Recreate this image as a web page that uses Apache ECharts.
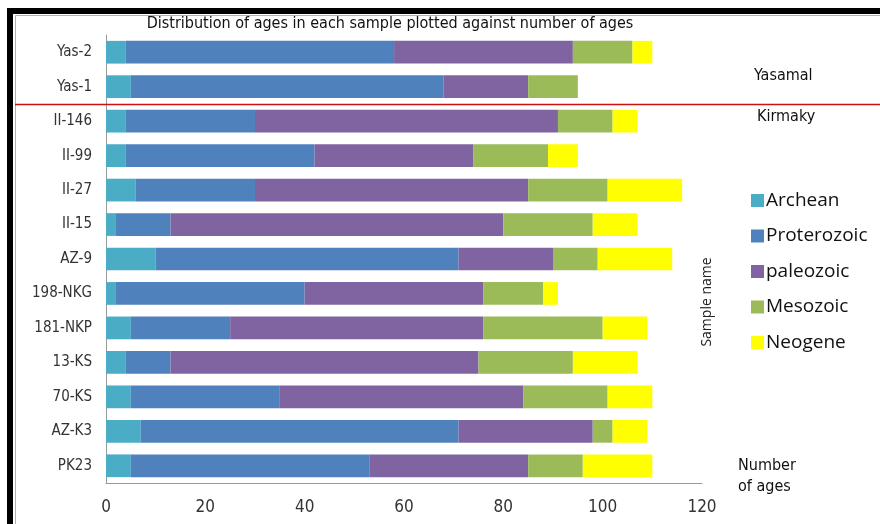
<!DOCTYPE html>
<html>
<head>
<meta charset="utf-8">
<script src="https://cdn.jsdelivr.net/npm/echarts@6/dist/echarts.min.js"></script>
<style>
  html, body { margin: 0; padding: 0; background: #fff; }
  #chart { width: 880px; height: 524px; }
</style>
</head>
<body>
<div id="chart"></div>
<script>
// Samples, top to bottom
const samples = ['Yas-2', 'Yas-1', 'II-146', 'II-99', 'II-27', 'II-15', 'AZ-9', '198-NKG', '181-NKP', '13-KS', '70-KS', 'AZ-K3', 'PK23'];

// Number of ages per era for each sample
const archean     = [4, 5, 4, 4, 6, 2, 10, 2, 5, 4, 5, 7, 5];
const proterozoic = [54, 63, 26, 38, 24, 11, 61, 38, 20, 9, 30, 64, 48];
const paleozoic   = [36, 17, 61, 32, 55, 67, 19, 36, 51, 62, 49, 27, 32];
const mesozoic    = [12, 10, 11, 15, 16, 18, 9, 12, 24, 19, 17, 4, 11];
const neogene     = [4, 0, 5, 6, 15, 9, 15, 3, 9, 13, 9, 7, 14];

const eras = [
  { name: 'Archean',     data: archean,     color: '#4BACC6' },
  { name: 'Proterozoic', data: proterozoic, color: '#4F81BD' },
  { name: 'paleozoic',   data: paleozoic,   color: '#8064A2' },
  { name: 'Mesozoic',    data: mesozoic,    color: '#9BBB59' },
  { name: 'Neogene',     data: neogene,     color: '#FFFF00' }
];

const xMin = 0, xMax = 120, xStep = 20;

const narrow = "'Liberation Sans Narrow', 'DejaVu Sans Condensed', sans-serif";
const wide = "'Open Sans', 'DejaVu Sans', sans-serif";

const chart = echarts.init(document.getElementById('chart'), null, { renderer: 'canvas' });

const option = {
  animation: false,
  backgroundColor: '#ffffff',
  grid: { left: 106, right: 178, top: 35, bottom: 41, containLabel: false },
  legend: {
    orient: 'vertical',
    left: 746,
    top: 186,
    itemWidth: 13,
    itemHeight: 13,
    itemGap: 16.5,
    icon: 'rect',
    selectedMode: false,
    textStyle: { fontFamily: wide, fontSize: 19, color: '#111', padding: [0, 0, 0, -3] },
    data: eras.map(e => e.name)
  },
  xAxis: {
    type: 'value',
    min: xMin,
    max: xMax,
    interval: xStep,
    splitLine: { show: false },
    axisLine: { show: true, lineStyle: { color: '#9a9a9a', width: 1 } },
    axisTick: { show: false },
    axisLabel: { margin: 16, fontFamily: narrow, fontSize: 17, color: '#333' }
  },
  yAxis: {
    type: 'category',
    data: samples,
    inverse: true,
    axisLine: { show: true, lineStyle: { color: '#9a9a9a', width: 1 } },
    axisTick: { show: false },
    axisLabel: { margin: 14, fontFamily: narrow, fontSize: 15, color: '#333' }
  },
  series: eras.map(e => ({
    name: e.name,
    type: 'bar',
    stack: 'ages',
    data: e.data,
    barCategoryGap: '34%',
    itemStyle: { color: e.color },
    emphasis: { disabled: true }
  }))
};

chart.setOption(option);

// Boundary between the Yasamal and Kirmaky groups
const yA = chart.convertToPixel({ yAxisIndex: 0 }, 'Yas-1');
const yB = chart.convertToPixel({ yAxisIndex: 0 }, 'II-146');
const yBoundary = Math.round((yA + yB) / 2) + 0.5;

chart.setOption({
  graphic: [
    // frame
    { type: 'rect', shape: { x: 7, y: 8, width: 6, height: 516 }, style: { fill: '#000' }, silent: true },
    { type: 'rect', shape: { x: 7, y: 8, width: 873, height: 6 }, style: { fill: '#000' }, silent: true },
    { type: 'line', shape: { x1: 15.5, y1: 15.5, x2: 15.5, y2: 524 }, style: { stroke: '#b0b0b0', lineWidth: 1 }, silent: true },
    { type: 'line', shape: { x1: 15.5, y1: 15.5, x2: 880, y2: 15.5 }, style: { stroke: '#b0b0b0', lineWidth: 1 }, silent: true },
    // group divider
    { type: 'line', shape: { x1: 15, y1: yBoundary, x2: 880, y2: yBoundary }, style: { stroke: '#cc1111', lineWidth: 1.5 }, silent: true, z: 10 },
    // title
    { type: 'text', x: 390, y: 24, style: { text: 'Distribution of ages in each sample plotted against number of ages', font: '16px ' + narrow, fill: '#111', align: 'center', verticalAlign: 'middle' }, silent: true },
    // group names
    { type: 'text', x: 754, y: 76, style: { text: 'Yasamal', font: '16px ' + narrow, fill: '#111', verticalAlign: 'middle' }, silent: true },
    { type: 'text', x: 757, y: 117, style: { text: 'Kirmaky', font: '16px ' + narrow, fill: '#111', verticalAlign: 'middle' }, silent: true },
    // axis titles
    { type: 'text', x: 707, y: 302, rotation: Math.PI / 2, style: { text: 'Sample name', font: '14px ' + wide, fill: '#222', align: 'center', verticalAlign: 'middle' }, silent: true },
    { type: 'text', x: 738, y: 466, style: { text: 'Number', font: '16px ' + narrow, fill: '#111', verticalAlign: 'middle' }, silent: true },
    { type: 'text', x: 738, y: 487, style: { text: 'of ages', font: '16px ' + narrow, fill: '#111', verticalAlign: 'middle' }, silent: true }
  ]
});
</script>
</body>
</html>
